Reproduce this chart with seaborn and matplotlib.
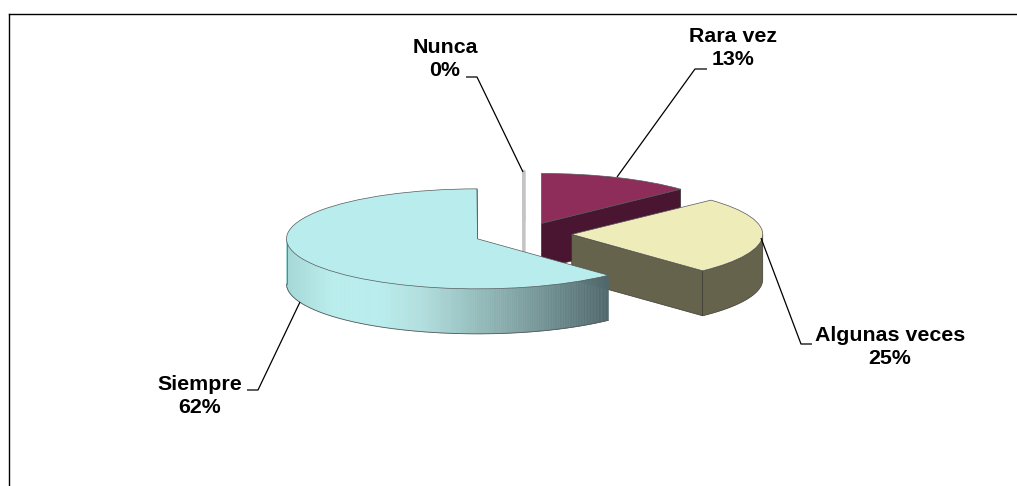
import numpy as np
import matplotlib
matplotlib.use('Agg')
import matplotlib.pyplot as plt
from matplotlib.patches import Polygon
import seaborn as sns

# data
categorias = ['Nunca', 'Rara vez', 'Algunas veces', 'Siempre']
valores = [0.05, 13, 25, 62]
etiquetas = ['0%', '13%', '25%', '62%']
explode = [0.255, 0.23, 0.25, 0.262]

# colours
col_top = ['#c4c4c4', '#8e2c5a', '#eeecb9', '#b9eded']
col_side = ['#c4c4c4', '#4a1530', '#66634d', '#b9eded']
grad_siempre = ['#a6d8d8', '#b9eded', '#b9eded', '#b0dcdc', '#98c0c0', '#82a4a5', '#688689', '#4f666b']

W, H = 1017, 486
CX, CY = 524.0, 234.0   # pie centre in px
RX, RY = 191.0, 50.0    # px per data unit
DEPTH = 45 / RY


def px(x, y):
    return (x - CX) / RX, (CY - y) / RY


sns.set_theme(style='white')
plt.rcParams['font.family'] = ['Liberation Sans', 'DejaVu Sans']

fig = plt.figure(figsize=(W / 100, H / 100), dpi=100, facecolor='white')
ax = fig.add_axes([9 / W, 0, 1 - 9 / W, (H - 14) / H])
wedges, _ = ax.pie(valores, explode=explode, startangle=90 + 0.18, counterclock=False,
                   colors=col_top, radius=1,
                   wedgeprops={'edgecolor': '#55595c', 'linewidth': 0.5})
# 0% slice is only a sliver, the edge gives it its width
wedges[0].set_edgecolor('#c4c4c4')
wedges[0].set_linewidth(2.0)
# the flattening comes from the limits, pie() forces equal aspect
ax.set_aspect('auto')
ax.set_xlim(px(9, 0)[0], px(W, 0)[0])
ax.set_ylim(px(0, H)[1], px(0, 14)[1])

ax.set_frame_on(True)
for s in ['right', 'bottom']:
    ax.spines[s].set_visible(False)
for s in ['left', 'top']:
    ax.spines[s].set_visible(True)
    ax.spines[s].set_color('black')
    ax.spines[s].set_linewidth(1.0)


def punto(w, ang):
    a = np.deg2rad(ang)
    return w.center[0] + w.r * np.cos(a), w.center[1] + w.r * np.sin(a)


def dibuja_lado(w, color, z, grad=None, borde='#3a3a32', lw=0.5):
    # radial face on the clockwise end of the slice
    x0, y0 = w.center
    x1, y1 = punto(w, w.theta1)
    ax.add_patch(Polygon([(x0, y0), (x1, y1), (x1, y1 - DEPTH), (x0, y0 - DEPTH)],
                         closed=True, facecolor=color, edgecolor=borde, linewidth=lw, zorder=z))
    # outer wall, only the part facing the viewer
    ang = np.linspace(w.theta1, w.theta2, 400)
    ang = ang[np.sin(np.deg2rad(ang)) < 0]
    if len(ang) < 2:
        return
    xs, ys = punto(w, ang)
    if grad is None:
        pts = list(zip(xs, ys)) + list(zip(xs[::-1], ys[::-1] - DEPTH))
        ax.add_patch(Polygon(pts, closed=True, facecolor=color, edgecolor=borde, linewidth=lw, zorder=z))
    else:
        pal = sns.blend_palette(grad, 256)
        fr = (xs - xs.min()) / (xs.max() - xs.min())
        for i in range(len(xs) - 1):
            c = pal[int(fr[i] * 255)]
            q = [(xs[i], ys[i]), (xs[i + 1], ys[i + 1]), (xs[i + 1], ys[i + 1] - DEPTH), (xs[i], ys[i] - DEPTH)]
            ax.add_patch(Polygon(q, closed=True, facecolor=c, edgecolor=c, linewidth=0.4, zorder=z))
        ax.plot(xs, ys - DEPTH, color='#55595c', lw=0.6, zorder=z + 0.5)
        ax.plot([xs[0], xs[0]], [ys[0], ys[0] - DEPTH], color='#55595c', lw=0.5, zorder=z + 0.5)


# back to front
for k, nombre in enumerate(['Rara vez', 'Nunca', 'Algunas veces', 'Siempre']):
    i = categorias.index(nombre)
    z = 2 + k * 2
    if nombre == 'Nunca':
        dibuja_lado(wedges[i], col_side[i], z, None, '#c4c4c4', 2.0)
    else:
        dibuja_lado(wedges[i], col_side[i], z, grad_siempre if nombre == 'Siempre' else None)
    wedges[i].set_zorder(z + 1)

# leaders and labels
lineas = {
    'Nunca': [(466, 77), (477, 77), (523, 172)],
    'Rara vez': [(707, 69), (695, 69), (617, 177)],
    'Algunas veces': [(812, 344), (801, 344), (761, 238)],
    'Siempre': [(247, 390), (258, 390), (300, 302)],
}
pos_texto = {
    'Nunca': (445, 59),
    'Rara vez': (733, 48),
    'Algunas veces': (890, 347),
    'Siempre': (200, 396),
}
for nombre, etq in zip(categorias, etiquetas):
    d = [px(*p) for p in lineas[nombre]]
    ax.plot([p[0] for p in d], [p[1] for p in d], color='black', lw=0.9, zorder=20,
            solid_capstyle='butt')
    tx, ty = px(*pos_texto[nombre])
    ax.text(tx, ty, nombre + '\n' + etq, ha='center', va='center', fontsize=15.4,
            fontweight='bold', color='black', linespacing=1.27, zorder=21)

fig.savefig('out.png', dpi=100, facecolor='white')
